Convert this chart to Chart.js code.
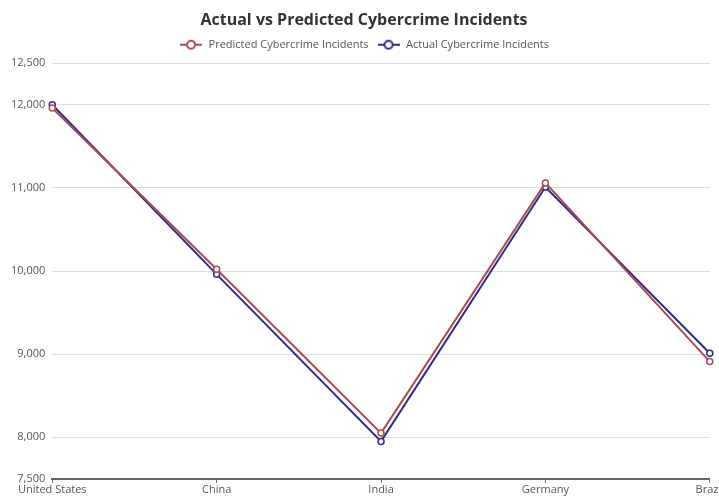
<!DOCTYPE html>
<html>
<head>
<meta charset="utf-8">
<script src="https://cdn.jsdelivr.net/npm/chart.js@4.4.1/dist/chart.umd.min.js"></script>
<style>
    html, body { margin: 0; padding: 0; background: #fff; overflow: hidden; }
    #wrap { width: 719px; height: 498px; overflow: hidden; }
    #box { width: 724px; height: 496px; }
</style>
</head>
<body>
<div id="wrap"><div id="box"><canvas id="incidentsChart"></canvas></div></div>
<script>
// Incidents per country
const countries = ['United States', 'China', 'India', 'Germany', 'Brazil'];
const predictedIncidents = [11960, 10020, 8050, 11060, 8910];
const actualIncidents = [12000, 9960, 7950, 11010, 9010];
const yTicks = [7500, 8000, 9000, 10000, 11000, 12000, 12500];

const predictedColor = '#ad4a50';
const actualColor = '#2a2d8c';
const fontFamily = "'Open Sans', 'Noto Sans', sans-serif";

// Legend marker: short line with a hollow circle in the middle
function legendMarker(color) {
    const c = document.createElement('canvas');
    c.width = 22;
    c.height = 12;
    const g = c.getContext('2d');
    g.strokeStyle = color;
    g.lineWidth = 2;
    g.beginPath();
    g.moveTo(0, 6);
    g.lineTo(22, 6);
    g.stroke();
    g.fillStyle = '#fff';
    g.beginPath();
    g.arc(11, 6, 4, 0, Math.PI * 2);
    g.fill();
    g.stroke();
    return c;
}

// a little more room under the legend
const legendGap = {
    id: 'legendGap',
    beforeInit(chart) {
        const fit = chart.legend.fit;
        chart.legend.fit = function () {
            fit.call(this);
            this.height += 3;
        };
    }
};

const ctx = document.getElementById('incidentsChart').getContext('2d');
new Chart(ctx, {
    type: 'line',
    data: {
        labels: countries,
        datasets: [{
            label: 'Predicted Cybercrime Incidents',
            data: predictedIncidents,
            borderColor: predictedColor,
            backgroundColor: '#fff',
            borderWidth: 2,
            pointRadius: 3,
            pointBorderWidth: 1.5,
            pointBackgroundColor: '#fff',
            pointBorderColor: predictedColor,
            tension: 0
        }, {
            label: 'Actual Cybercrime Incidents',
            data: actualIncidents,
            borderColor: actualColor,
            backgroundColor: '#fff',
            borderWidth: 2,
            pointRadius: 3,
            pointBorderWidth: 1.5,
            pointBackgroundColor: '#fff',
            pointBorderColor: actualColor,
            tension: 0
        }]
    },
    options: {
        responsive: true,
        maintainAspectRatio: false,
        animation: false,
        layout: { padding: { left: 4, right: 0, top: 9, bottom: 0 } },
        plugins: {
            title: {
                display: true,
                text: 'Actual vs Predicted Cybercrime Incidents',
                color: '#333',
                font: { family: fontFamily, size: 16, weight: 'bold' },
                padding: { top: 2, bottom: 1 }
            },
            legend: {
                position: 'top',
                labels: {
                    color: '#555',
                    font: { family: fontFamily, size: 11 },
                    usePointStyle: true,
                    pointStyleWidth: 24,
                    boxHeight: 12,
                    padding: 8,
                    generateLabels: chart => chart.data.datasets.map((ds, i) => ({
                        text: ds.label,
                        pointStyle: legendMarker(ds.borderColor),
                        fillStyle: ds.borderColor,
                        strokeStyle: ds.borderColor,
                        fontColor: '#555',
                        lineWidth: 0,
                        hidden: !chart.isDatasetVisible(i),
                        datasetIndex: i
                    }))
                }
            },
            tooltip: { enabled: false }
        },
        scales: {
            x: {
                offset: false,
                grid: {
                    display: true,
                    drawOnChartArea: false,
                    drawTicks: true,
                    tickLength: 4,
                    color: '#666'
                },
                border: { display: true, color: '#666', width: 2 },
                ticks: {
                    color: '#555',
                    font: { family: fontFamily, size: 11 },
                    maxRotation: 0,
                    autoSkip: false,
                    padding: 0
                }
            },
            y: {
                min: 7500,
                max: 12500,
                afterBuildTicks: axis => {
                    axis.ticks = yTicks.map(v => ({ value: v }));
                },
                grid: {
                    color: '#dcdcdc',
                    drawTicks: false
                },
                border: { display: false },
                ticks: {
                    color: '#555',
                    font: { family: fontFamily, size: 11 },
                    padding: 7,
                    callback: v => v.toLocaleString('en-US')
                }
            }
        }
    },
    plugins: [legendGap]
});
</script>
</body>
</html>
